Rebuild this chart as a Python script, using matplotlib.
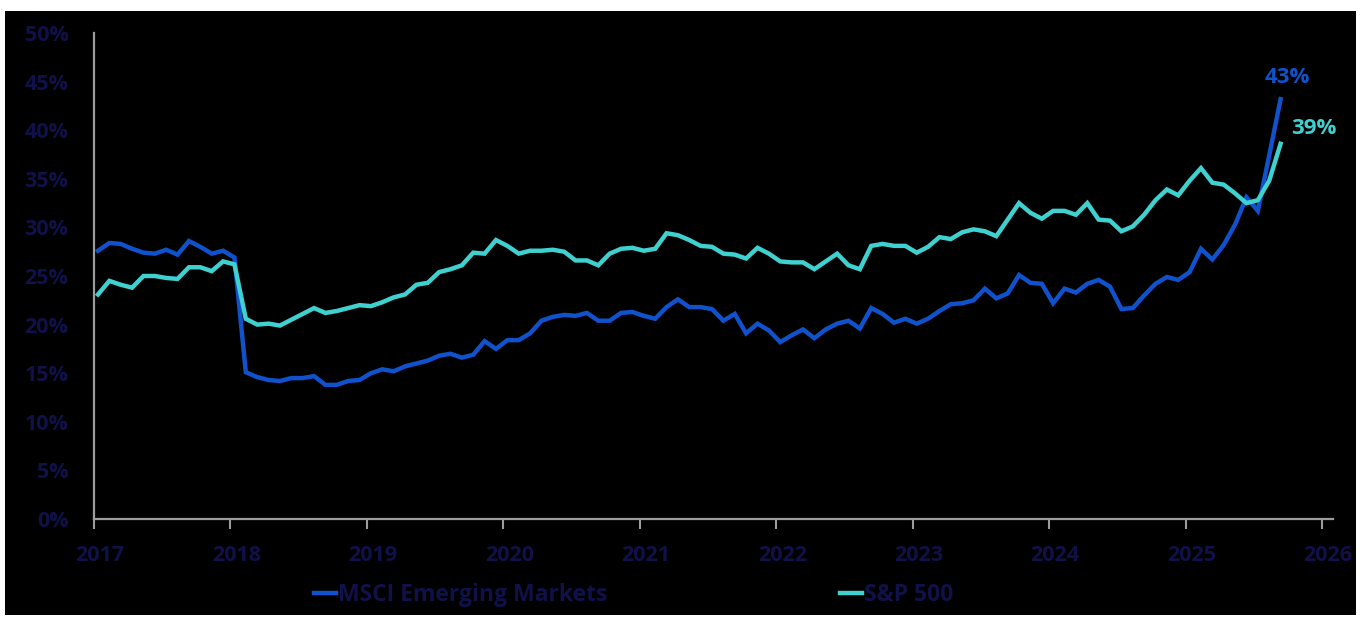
import numpy as np
import pandas as pd
import matplotlib
matplotlib.use("Agg")
import matplotlib.pyplot as plt
from matplotlib.patches import Rectangle
import matplotlib.transforms as mtransforms

# Monthly series, Jan 2017 - Sep 2025 (percent)
months = pd.period_range("2017-01", "2025-09", freq="M")

msci_em = [
    27.6, 28.4, 28.3, 27.8, 27.4, 27.3, 27.7, 27.2, 28.6, 28.0, 27.3, 27.6,
    26.9, 15.1, 14.6, 14.3, 14.2, 14.5, 14.5, 14.7, 13.8, 13.8, 14.2, 14.3,
    15.0, 15.4, 15.2, 15.7, 16.0, 16.3, 16.8, 17.0, 16.6, 16.9, 18.3, 17.5,
    18.4, 18.4, 19.1, 20.4, 20.8, 21.0, 20.9, 21.2, 20.4, 20.4, 21.2, 21.3,
    20.9, 20.6, 21.8, 22.6, 21.8, 21.8, 21.6, 20.4, 21.1, 19.1, 20.1, 19.4,
    18.2, 18.9, 19.5, 18.6, 19.5, 20.1, 20.4, 19.6, 21.7, 21.1, 20.2, 20.6,
    20.1, 20.6, 21.4, 22.1, 22.2, 22.5, 23.7, 22.7, 23.2, 25.1, 24.3, 24.2,
    22.2, 23.7, 23.3, 24.2, 24.6, 23.9, 21.6, 21.7, 23.0, 24.2, 24.9, 24.6,
    25.4, 27.8, 26.7, 28.2, 30.3, 33.1, 31.7, 37.4, 43.2,
]

sp500 = [
    23.1, 24.5, 24.1, 23.8, 25.0, 25.0, 24.8, 24.7, 25.9, 25.9, 25.5, 26.5,
    26.2, 20.6, 20.0, 20.1, 19.9, 20.5, 21.1, 21.7, 21.2, 21.4, 21.7, 22.0,
    21.9, 22.3, 22.8, 23.1, 24.1, 24.3, 25.4, 25.7, 26.1, 27.4, 27.3, 28.7,
    28.1, 27.3, 27.6, 27.6, 27.7, 27.5, 26.6, 26.6, 26.1, 27.3, 27.8, 27.9,
    27.6, 27.8, 29.4, 29.2, 28.7, 28.1, 28.0, 27.3, 27.2, 26.8, 27.9, 27.3,
    26.5, 26.4, 26.4, 25.7, 26.5, 27.3, 26.1, 25.7, 28.1, 28.3, 28.1, 28.1,
    27.4, 28.0, 29.0, 28.8, 29.5, 29.8, 29.6, 29.1, 30.8, 32.5, 31.5, 30.9,
    31.7, 31.7, 31.3, 32.5, 30.8, 30.7, 29.6, 30.1, 31.3, 32.8, 33.9, 33.3,
    34.8, 36.1, 34.6, 34.4, 33.5, 32.5, 32.8, 34.8, 38.6,
]

series_names = ["MSCI Emerging Markets", "S&P 500"]
year_ticks = list(range(2017, 2027))
pct_ticks = list(range(0, 55, 5))

# Colours
blue = "#0f52cc"
cyan = "#3fd0d0"
label_navy = "#11114a"
spine_grey = "#9c9c9c"

# Decimal-year positions, roughly a third of the way into each month
x = np.array([p.year + (p.month - 1 + 0.35) / 12 for p in months])

fig = plt.figure(figsize=(13.62, 6.17), dpi=100, facecolor="white")
fig.patches.append(Rectangle((5 / 1362, 2 / 617), 1351 / 1362, 604 / 617,
                             transform=fig.transFigure, facecolor="black",
                             edgecolor="none", zorder=-10))

ax = fig.add_axes([94 / 1362, 98 / 617, 1239 / 1362, 486 / 617])
ax.set_facecolor("black")
ax.set_zorder(1)

l1, = ax.plot(x, msci_em, color=blue, lw=3.2, solid_joinstyle="miter",
              label=series_names[0], zorder=3)
l2, = ax.plot(x, sp500, color=cyan, lw=3.2, solid_joinstyle="miter",
              label=series_names[1], zorder=4)

ax.set_xlim(2017, 2026.08)
ax.set_ylim(0, 50)

ax.set_xticks(year_ticks)
ax.set_xticklabels([str(y) for y in year_ticks])
ax.set_yticks(pct_ticks)
ax.set_yticklabels([f"{v}%" for v in pct_ticks])

for lab in ax.get_yticklabels() + ax.get_xticklabels():
    lab.set_fontfamily("Open Sans")
    lab.set_fontweight("bold")
    lab.set_fontsize(15.5)
    lab.set_color(label_navy)

ax.tick_params(axis="y", length=0, pad=18.5)
ax.tick_params(axis="x", length=7, width=1.5, color=spine_grey, pad=12,
               direction="out")
# nudge the year labels slightly to the right
shift = mtransforms.ScaledTranslation(6 / 100, 0, fig.dpi_scale_trans)
for lab in ax.get_xticklabels():
    lab.set_transform(lab.get_transform() + shift)

for side in ["top", "right"]:
    ax.spines[side].set_visible(False)
for side in ["left", "bottom"]:
    ax.spines[side].set_color(spine_grey)
    ax.spines[side].set_linewidth(1.6)

# End-of-series value labels
ax.annotate(f"{msci_em[-1]:.0f}%", xy=(x[-1], msci_em[-1]),
            xytext=(5, 15.5), textcoords="offset points", ha="center",
            va="center", color=blue, fontsize=16, fontfamily="Open Sans",
            fontweight="bold", annotation_clip=False)
ax.annotate(f"{sp500[-1]:.0f}%", xy=(x[-1], sp500[-1]),
            xytext=(7.5, 11), textcoords="offset points", ha="left",
            va="center", color=cyan, fontsize=16, fontfamily="Open Sans",
            fontweight="bold", annotation_clip=False)

leg = fig.legend(handles=[l1, l2], loc="center left",
                 bbox_to_anchor=(293 / 1362, 1 - 595 / 617), ncol=2,
                 frameon=False, handlelength=0.96, handletextpad=0.1,
                 columnspacing=10.15,
                 prop=dict(family="Open Sans", weight="bold", size=16.5))
for t in leg.get_texts():
    t.set_color(label_navy)

fig.savefig("out.png", dpi=100, facecolor=fig.get_facecolor())
